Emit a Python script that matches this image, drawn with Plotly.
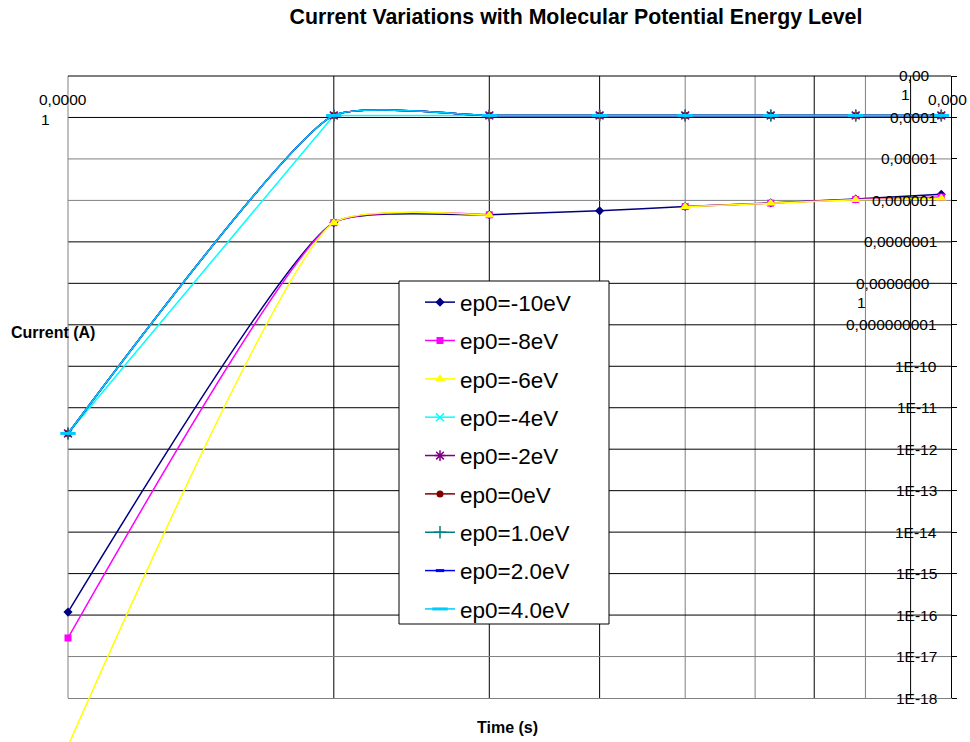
import math
import plotly.graph_objects as go

# ---------------- data ----------------
time_x = [1, 2, 3, 4, 5, 6.25, 7.8, 9.75]
series_names = ["ep0=-10eV", "ep0=-8eV", "ep0=-6eV", "ep0=-4eV", "ep0=-2eV",
                "ep0=0eV", "ep0=1.0eV", "ep0=2.0eV", "ep0=4.0eV"]
cur_m10 = [1.18e-16, 2.9e-7, 4.5e-7, 5.6e-7, 7.1e-7, 8.7e-7, 1.08e-6, 1.4e-6]
cur_m8 = [2.8e-17, 2.9e-7, 4.5e-7, None, 7.1e-7, 8.6e-7, 1.05e-6, 1.2e-6]
cur_m6 = [7e-20, 2.9e-7, 4.4e-7, None, 7.0e-7, 8.5e-7, 1.03e-6, 1.12e-6]
cur_m4 = [2.4e-12, 1.12e-4, 1.12e-4, 1.12e-4, 1.12e-4, 1.12e-4, 1.12e-4, 1.12e-4]
cur_m2 = [2.4e-12, 1.12e-4, 1.12e-4, 1.12e-4, 1.12e-4, 1.12e-4, 1.12e-4, 1.12e-4]
cur_0 = [2.4e-12, 1.12e-4, 1.12e-4, 1.12e-4, 1.12e-4, 1.12e-4, 1.12e-4, 1.12e-4]
cur_p1 = [2.4e-12, 1.12e-4, 1.12e-4, 1.12e-4, 1.12e-4, 1.12e-4, 1.12e-4, 1.12e-4]
cur_p2 = [2.4e-12, 1.12e-4, 1.12e-4, 1.12e-4, 1.12e-4, 1.12e-4, 1.12e-4, 1.12e-4]
cur_p4 = [2.4e-12, 1.12e-4, 1.12e-4, 1.12e-4, 1.12e-4, 1.12e-4, 1.12e-4, 1.12e-4]
series_values = [cur_m10, cur_m8, cur_m6, cur_m4, cur_m2, cur_0, cur_p1, cur_p2, cur_p4]

y_tick_values = [1e-4, 1e-5, 1e-6, 1e-7, 1e-9, 1e-10, 1e-11, 1e-12, 1e-13,
                 1e-14, 1e-15, 1e-16, 1e-17, 1e-18]
y_tick_labels = ["0,0001", "0,00001", "0,000001", "0,0000001", "0,000000001",
                 "1E-10", "1E-11", "1E-12", "1E-13", "1E-14", "1E-15", "1E-16",
                 "1E-17", "1E-18"]
x_grid_values = [2, 3, 4, 5, 6, 7, 8, 9]
y_grid_values = [1e-4, 1e-5, 1e-6, 1e-7, 1e-8, 1e-9, 1e-10, 1e-11, 1e-12,
                 1e-13, 1e-14, 1e-15, 1e-16, 1e-17]

# ---------------- styles ----------------
colors = ["#000080", "#FF00FF", "#FFFF00", "#00FFFF", "#800080",
          "#800000", "#008080", "#0000FF", "#00CCFF"]
symbols = ["diamond", "square", "triangle-up", "x-thin-open", "asterisk-open",
           "circle", "cross-thin-open", "line-ew-open", "line-ew-open"]
msizes = [7, 7, 9, 8, 9, 7, 9, 6, 11]
mline = [0, 0, 0, 1.5, 1.5, 0, 1.5, 3, 3]
shapes_line = ["spline", "spline", "spline", "linear", "spline",
               "spline", "spline", "spline", "spline"]
SMOOTH = 0.5

FONT = "Liberation Sans, Arial, sans-serif"
W, H = 970, 742
ML, MR, MT, MB = 68, 19, 76, 0
PLOT_BOTTOM = 698
plot_h = H - MT - MB
d0 = (H - PLOT_BOTTOM) / plot_h
YLO, YHI = -18, -3
px_per_dec = (PLOT_BOTTOM - MT) / (YHI - YLO)
y2lo = YHI - plot_h / px_per_dec
plot_w = W - ML - MR


def ypaper(v):
    return d0 + (math.log10(v) - YLO) / (YHI - YLO) * (1 - d0)


def xpx(px):
    return (px - ML) / plot_w


def ypx(py):
    return (H - MB - py) / plot_h


fig = go.Figure()
for i, (name, vals) in enumerate(zip(series_names, series_values)):
    on2 = (i == 2)
    mk = dict(symbol=symbols[i], size=msizes[i], color=colors[i])
    if mline[i]:
        mk["line"] = dict(color=colors[i], width=mline[i])
    fig.add_trace(go.Scatter(
        x=time_x, y=vals, name=name, legendgroup=name,
        mode="lines+markers",
        line=dict(color=colors[i], width=1.5, shape=shapes_line[i], smoothing=SMOOTH),
        marker=mk, connectgaps=False,
        xaxis="x2" if on2 else "x", yaxis="y2" if on2 else "y",
        cliponaxis=on2,
    ))

shapes = []
gray_x = {5, 6, 8}
for v in x_grid_values:
    shapes.append(dict(type="line", xref="paper", yref="paper",
                       x0=math.log10(v), x1=math.log10(v), y0=d0, y1=1,
                       line=dict(color="#808080" if v in gray_x else "#000000", width=1),
                       layer="below"))
gray_y = {1e-5, 1e-6, 1e-17}
for v in y_grid_values:
    shapes.append(dict(type="line", xref="paper", yref="paper",
                       x0=0, x1=1, y0=ypaper(v), y1=ypaper(v),
                       line=dict(color="#808080" if v in gray_y else "#000000", width=1),
                       layer="below"))
# left and top borders
shapes.append(dict(type="line", xref="paper", yref="paper", x0=0, x1=0, y0=d0, y1=1,
                   line=dict(color="#808080", width=1), layer="below"))
shapes.append(dict(type="line", xref="paper", yref="paper", x0=0, x1=1, y0=1, y1=1,
                   line=dict(color="#000000", width=1), layer="below"))
# legend box
shapes.append(dict(type="rect", xref="paper", yref="paper",
                   x0=xpx(399), x1=xpx(609), y0=ypx(624), y1=ypx(281),
                   line=dict(color="#000000", width=1), fillcolor="white", layer="above"))

annotations = []
lab_font = dict(family=FONT, size=15.5, color="black")
for v, t in zip(y_tick_values, y_tick_labels):
    annotations.append(dict(text=t, xref="paper", yref="paper", x=xpx(939), y=ypaper(v),
                            xanchor="right", yanchor="middle", showarrow=False, font=lab_font))
# wrapped labels
wrapped = [("0,00", 898, 75), ("1", 900, 95), ("0,0000000", 855, 283), ("1", 856, 302),
           ("0,000", 927, 99), ("0,0000", 38, 99), ("1", 40, 119)]
for t, px, py in wrapped:
    annotations.append(dict(text=t, xref="paper", yref="paper", x=xpx(px - 1), y=ypx(py),
                            xanchor="left", yanchor="middle", showarrow=False, font=lab_font))
annotations.append(dict(text="<b>Current (A)</b>", xref="paper", yref="paper",
                        x=xpx(9), y=ypx(332), xanchor="left", yanchor="middle",
                        showarrow=False, font=dict(family=FONT, size=16, color="black")))
annotations.append(dict(text="<b>Time (s)</b>", xref="paper", yref="paper",
                        x=xpx(507), y=ypx(727), xanchor="center", yanchor="middle",
                        showarrow=False, font=dict(family=FONT, size=16, color="black")))

fig.update_layout(
    width=W, height=H,
    margin=dict(l=ML, r=MR, t=MT, b=MB, pad=0),
    paper_bgcolor="white", plot_bgcolor="rgba(0,0,0,0)",
    title=dict(text="<b>Current Variations with Molecular Potential Energy Level</b>",
               x=576 / W, xref="container", xanchor="center",
               y=1 - 17 / H, yref="container", yanchor="middle",
               font=dict(family=FONT, size=21.3, color="black")),
    xaxis=dict(type="log", range=[0, 1], domain=[0, 1], anchor="y",
               showgrid=False, zeroline=False, showticklabels=False, ticks="",
               showline=True, linecolor="#808080", linewidth=1),
    yaxis=dict(type="log", range=[YLO, YHI], domain=[d0, 1], anchor="x", side="right",
               showgrid=False, zeroline=False, showticklabels=False,
               tickvals=[10.0 ** k for k in range(-18, -2)], ticks="outside",
               ticklen=5, tickcolor="black", showline=True, linecolor="black", linewidth=1),
    xaxis2=dict(type="log", range=[0, 1], domain=[0, 1], anchor="y2", visible=False),
    yaxis2=dict(type="log", range=[y2lo, YHI], domain=[0, 1], anchor="x2", visible=False),
    showlegend=True,
    legend=dict(x=xpx(420), y=ypx(281), xanchor="left", yanchor="top",
                bgcolor="rgba(0,0,0,0)", borderwidth=0, tracegroupgap=6.1,
                font=dict(family=FONT, size=22.5, color="black")),
    shapes=shapes, annotations=annotations,
)

fig.write_html("out.html")
